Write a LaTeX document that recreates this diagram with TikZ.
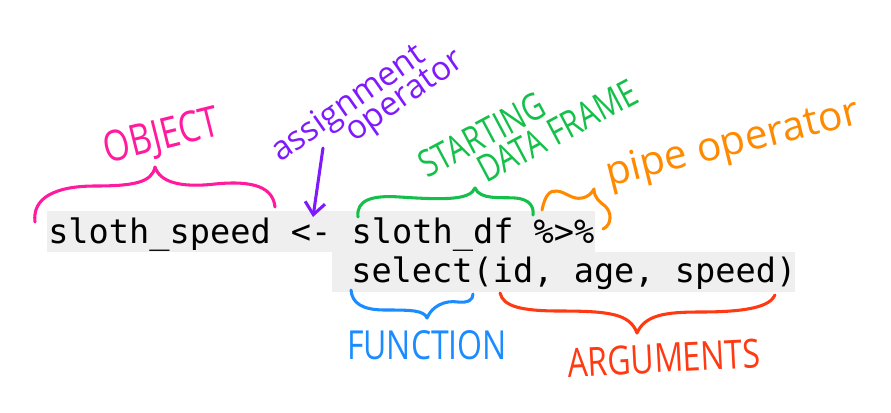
\documentclass[tikz,border=0pt]{standalone}
\usepackage{fontspec}
\setmonofont{DejaVu Sans Mono}
\newfontfamily\handfont{Open Sans}
\newfontfamily\handcaps[FakeStretch=0.8]{Open Sans}
\usetikzlibrary{arrows.meta}
\definecolor{codebg}{HTML}{EFEFEF}
\definecolor{objpink}{HTML}{FF1A9E}
\definecolor{asspurple}{HTML}{7F1AFF}
\definecolor{dfgreen}{HTML}{15C04A}
\definecolor{pipeorange}{HTML}{FF8A00}
\definecolor{funblue}{HTML}{1A8CFF}
\definecolor{argred}{HTML}{FF3A12}
\newcommand{\us}{\char"5F\relax}
\begin{document}
\begin{tikzpicture}[x=0.75pt,y=-0.75pt,
    code/.style={anchor=base west,inner sep=0pt,font=\ttfamily\fontsize{25.2}{30}\selectfont},
    hand/.style={line width=2.3pt,line cap=round,line join=round},
    lbl/.style={inner sep=0pt}]
    \useasboundingbox (0,0) rectangle (891,412);

    % Kotak kode
    \fill[codebg] (47,211) rectangle (595,252);
    \fill[codebg] (332,252) rectangle (795,292);
    \node[code] (line1) at (48,243) {sloth\us speed <- sloth\us df \%>\%};
    \node[code] (line2) at (351,282) {select(id, age, speed)};

    % Label tulisan tangan
    \node[lbl,text=objpink,rotate=14,font=\handcaps\fontsize{32}{32}\selectfont] (object) at (162,138) {OBJECT};
    \node[lbl,anchor=base west,text=asspurple,rotate=35,font=\handfont\fontsize{25}{25}\selectfont] (assign1) at (280,163) {assignment};
    \node[lbl,anchor=base west,text=asspurple,rotate=35,font=\handfont\fontsize{25}{25}\selectfont] (assign2) at (354,143) {operator};
    \node[lbl,anchor=base west,text=dfgreen,rotate=28,font=\handcaps\fontsize{28}{28}\selectfont] (start1) at (427,179) {STARTING};
    \node[lbl,anchor=base west,text=dfgreen,rotate=28,font=\handcaps\fontsize{28}{28}\selectfont] (start2) at (486,184) {DATA FRAME};
    \node[lbl,text=pipeorange,rotate=14,font=\handfont\fontsize{30.5}{31}\selectfont] (pipe) at (733,145) {pipe operator};
    \node[lbl,text=funblue,font=\handcaps\fontsize{30}{30}\selectfont] (func) at (427,345) {FUNCTION};
    \node[lbl,text=argred,rotate=3,font=\handcaps\fontsize{30}{30}\selectfont] (args) at (664,358) {ARGUMENTS};

    % Kurung kurawal
    \coordinate (objL) at (35,222);
    \coordinate (objR) at (275,207);
    \draw[hand,objpink] (objL) .. controls (32,198) and (55,186) .. (95,186)
      .. controls (135,186) and (152,182) .. (155,167)
      .. controls (160,182) and (180,188) .. (215,184)
      .. controls (255,180) and (273,188) .. (objR);
    \coordinate (dfL) at (358,217);
    \coordinate (dfR) at (533,215);
    \draw[hand,dfgreen] (dfL) .. controls (356,200) and (372,195) .. (400,197)
      .. controls (445,200) and (470,200) .. (475,188)
      .. controls (480,200) and (500,197) .. (515,198)
      .. controls (530,199) and (534,207) .. (dfR);
    \coordinate (pipeL) at (542,210);
    \coordinate (pipeR) at (603,229);
    \draw[hand,pipeorange] (pipeL) .. controls (545,195) and (550,190) .. (557,191)
      .. controls (566,192) and (572,200) .. (582,198)
      .. controls (588,197) and (592,193) .. (594,189)
      .. controls (594,198) and (600,202) .. (605,206)
      .. controls (612,212) and (612,225) .. (pipeR);
    \coordinate (funL) at (351,290);
    \coordinate (funR) at (473,294);
    \draw[hand,funblue] (funL) .. controls (352,303) and (362,310) .. (385,310)
      .. controls (410,310) and (424,310) .. (427,318)
      .. controls (432,306) and (445,300) .. (458,302)
      .. controls (468,303) and (473,300) .. (funR);
    \coordinate (argL) at (500,293);
    \coordinate (argR) at (775,295);
    \draw[hand,argred] (argL) .. controls (503,306) and (520,311) .. (560,311)
      .. controls (610,311) and (630,314) .. (637,333)
      .. controls (645,315) and (665,312) .. (700,312)
      .. controls (750,312) and (770,306) .. (argR);

    % Panah operator penugasan
    \coordinate (arrtail) at (323,148);
    \coordinate (arrhead) at (313,217);
    \draw[hand,asspurple,-{Straight Barb[length=9pt,width=15pt]}] (arrtail) -- (arrhead);
  \end{tikzpicture}
\end{document}
